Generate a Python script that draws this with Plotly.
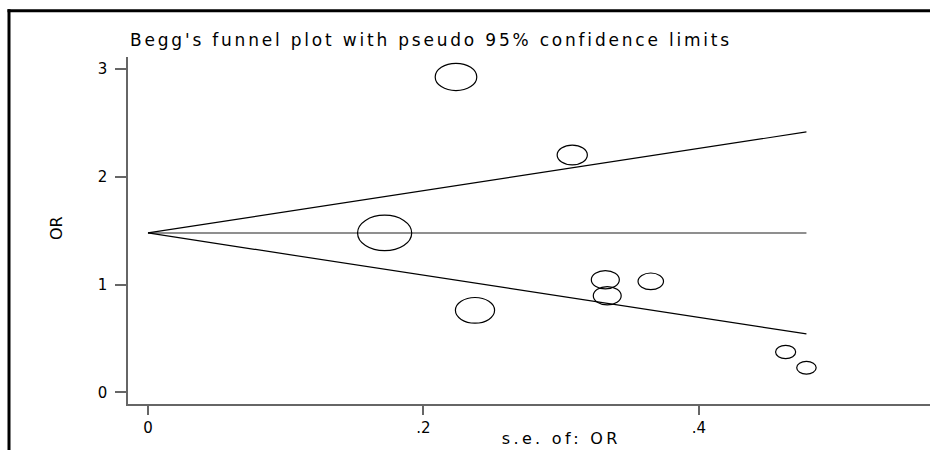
import plotly.graph_objects as go

# ---- data ----
se = [0.1718, 0.2236, 0.2374, 0.308, 0.332, 0.3334, 0.365, 0.4629, 0.478]
odds_ratio = [1.479, 2.926, 0.761, 2.202, 1.045, 0.897, 1.030, 0.375, 0.229]
pooled = 1.479
x_ticks = [0, 0.2, 0.4]
x_tick_text = ["0", ".2", ".4"]
y_ticks = [0, 1, 2, 3]
y_tick_text = ["0", "1", "2", "3"]

W, H = 930, 450
ML, MR, MT, MB = 128, 0, 57, 46
PW, PH = W - ML - MR, H - MT - MB
FONT = "DejaVu Sans"

def px_x(p):
    return (p - ML) / PW

def px_y(p):
    return (H - MB - p) / PH

se_max = max(se)
z = 1.96

fig = go.Figure()

# pooled estimate line and pseudo 95% confidence limits
fig.add_trace(go.Scatter(x=[0, se_max], y=[pooled, pooled], mode="lines",
                         line=dict(color="#6a6a6a", width=1.6), hoverinfo="skip",
                         showlegend=False))
fig.add_trace(go.Scatter(x=[0, se_max], y=[pooled, pooled + z * se_max], mode="lines",
                         line=dict(color="black", width=1.2), hoverinfo="skip",
                         showlegend=False))
fig.add_trace(go.Scatter(x=[0, se_max], y=[pooled, pooled - z * se_max], mode="lines",
                         line=dict(color="black", width=1.2), hoverinfo="skip",
                         showlegend=False))
# invisible hover points
fig.add_trace(go.Scatter(x=se, y=odds_ratio, mode="markers",
                         marker=dict(size=10, opacity=0), showlegend=False))

# study markers: ellipses, area proportional to weight 1/se^2
shapes = []
for s, o in zip(se, odds_ratio):
    w = 9.3 / s
    h = 6.1 / s
    shapes.append(dict(type="circle", xref="x", yref="y", xsizemode="pixel",
                       ysizemode="pixel", xanchor=s, yanchor=o,
                       x0=-w / 2, x1=w / 2, y0=-h / 2, y1=h / 2,
                       line=dict(color="black", width=1.2), fillcolor="rgba(0,0,0,0)"))

# outer frame (top and left edges)
shapes.append(dict(type="line", xref="paper", yref="paper",
                   x0=px_x(7.5), x1=px_x(W + 5), y0=px_y(10.8), y1=px_y(10.8),
                   line=dict(color="black", width=3)))
shapes.append(dict(type="line", xref="paper", yref="paper",
                   x0=px_x(9), x1=px_x(9), y0=px_y(9.3), y1=px_y(H + 5),
                   line=dict(color="black", width=3)))

axis_common = dict(showgrid=False, zeroline=False, showline=True, linecolor="#666666",
                   linewidth=1.5, ticks="outside", tickcolor="#666666", tickwidth=1.5,
                   tickfont=dict(family=FONT, size=15, color="black"))

fig.update_layout(
    width=W, height=H,
    margin=dict(l=ML, r=MR, t=MT, b=MB),
    paper_bgcolor="white", plot_bgcolor="white",
    shapes=shapes,
    xaxis=dict(range=[-0.0145, 0.5677], tickvals=x_ticks, ticktext=x_tick_text,
               ticklen=9, ticklabelstandoff=0, **axis_common),
    yaxis=dict(range=[-0.1076, 3.111], tickvals=y_ticks, ticktext=y_tick_text,
               ticklen=11, ticklabelstandoff=5, **axis_common),
    title=dict(text="Begg's funnel plot with pseudo 95% confidence limits",
               x=px_x(130), xref="paper", xanchor="left",
               y=1 - 40 / H, yref="container", yanchor="middle",
               font=dict(family=FONT, size=17, color="black")),
    annotations=[
        dict(text="s.e. of: OR", xref="paper", yref="paper", x=px_x(561), y=px_y(438),
             xanchor="center", yanchor="middle", showarrow=False,
             font=dict(family=FONT, size=16, color="black")),
        dict(text="OR", xref="paper", yref="paper", x=px_x(56), y=px_y(228),
             xanchor="center", yanchor="middle", showarrow=False, textangle=-90,
             font=dict(family=FONT, size=16, color="black")),
    ],
    showlegend=False,
)

post = """
var gd = document.getElementById('{plot_id}');
document.documentElement.style.margin = '0';
document.body.style.margin = '0';
document.body.style.overflow = 'hidden';
var spacing = function () {
  var t = gd.querySelector('text.gtitle');
  if (t) { t.style.letterSpacing = '2.8px'; }
  var a = gd.querySelectorAll('text.annotation-text');
  if (a.length) { a[0].style.letterSpacing = '3.3px'; }
};
spacing();
gd.on('plotly_afterplot', spacing);
"""

fig.write_html("out.html", post_script=post, config={"displayModeBar": False})
